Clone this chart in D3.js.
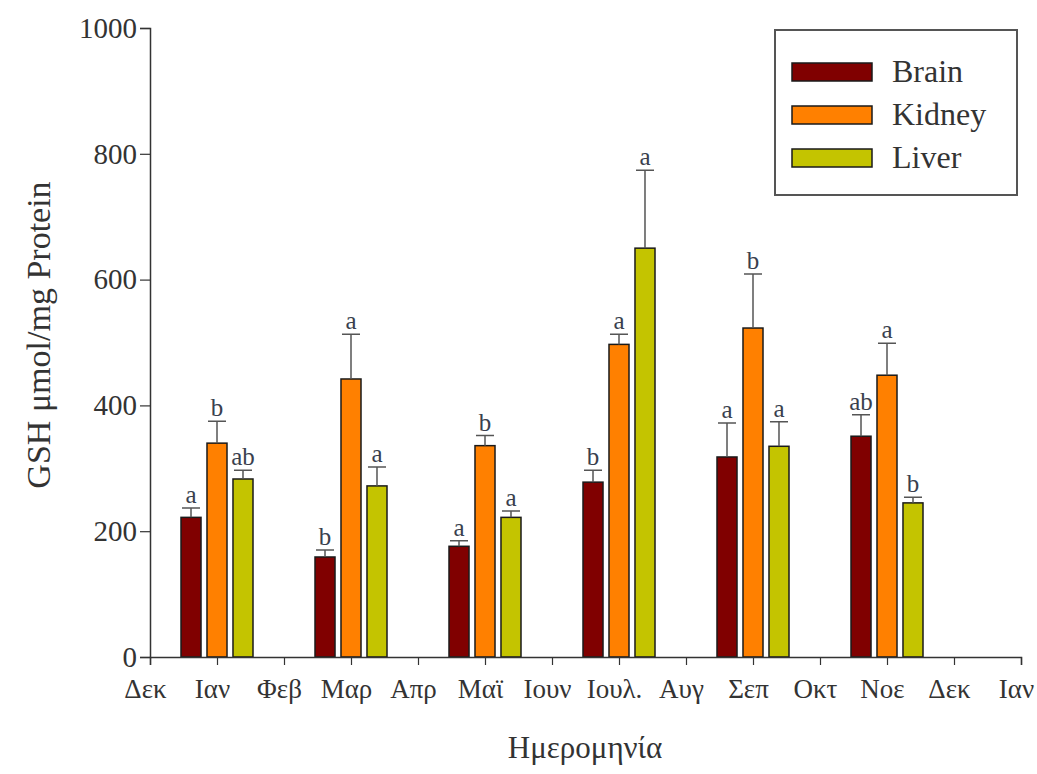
<!DOCTYPE html>
<html>
<head>
<meta charset="utf-8">
<script src="https://cdn.jsdelivr.net/npm/d3@7"></script>
<style>
  body { margin: 0; background: #fff; }
  svg { display: block; font-family: "Liberation Serif", "Times New Roman", serif; }
</style>
</head>
<body>
<div id="chart"></div>
<script>
// month ticks along the x axis (index based, labels repeat)
const tickLabels = ["Δεκ", "Ιαν", "Φεβ", "Μαρ", "Απρ", "Μαϊ", "Ιουν", "Ιουλ.", "Αυγ", "Σεπ", "Οκτ", "Νοε", "Δεκ", "Ιαν"];
// sampling months, as index into tickLabels
const sampleIdx = [1, 3, 5, 7, 9, 11];

const series = ["Brain", "Kidney", "Liver"];
const colors = ["#800000", "#ff8000", "#c4c400"];

const brain = [222, 159, 176, 278, 318, 351];
const kidney = [340, 442, 336, 497, 523, 448];
const liver = [283, 272, 222, 650, 335, 245];

const brainErr = [15, 11, 9, 19, 54, 34];
const kidneyErr = [35, 71, 16, 16, 86, 51];
const liverErr = [14, 30, 10, 124, 39, 9];

const brainSig = ["a", "b", "a", "b", "a", "ab"];
const kidneySig = ["b", "a", "b", "a", "b", "a"];
const liverSig = ["ab", "a", "a", "a", "a", "b"];

const yTicks = [0, 200, 400, 600, 800, 1000];

const width = 1037, height = 774;
const margin = { top: 28, right: 16, bottom: 117, left: 150 };
const serif = "'Liberation Serif', 'Times New Roman', serif";

const values = [brain, kidney, liver];
const errs = [brainErr, kidneyErr, liverErr];
const sigs = [brainSig, kidneySig, liverSig];

const rows = [];
sampleIdx.forEach((m, i) => {
  series.forEach((s, j) => {
    rows.push({ m, s, j, v: values[j][i], e: errs[j][i], sig: sigs[j][i] });
  });
});

const x = d3.scaleLinear()
  .domain([0, tickLabels.length - 1])
  .range([margin.left, width - margin.right]);

const xs = d3.scaleBand().domain(series).range([-36, 36]).paddingInner(0.23);

const y = d3.scaleLinear()
  .domain([0, 1000])
  .range([height - margin.bottom, margin.top]);

const svg = d3.select("#chart").append("svg")
  .attr("width", width)
  .attr("height", height)
  .attr("viewBox", [0, 0, width, height]);

const axisColor = "#333";

// bars
svg.append("g")
  .selectAll("rect")
  .data(rows)
  .join("rect")
  .attr("x", d => x(d.m) + xs(d.s))
  .attr("y", d => y(d.v))
  .attr("width", xs.bandwidth())
  .attr("height", d => y(0) - y(d.v))
  .attr("fill", d => colors[d.j])
  .attr("stroke", "#1a1a1a")
  .attr("stroke-width", 1.5);

// error bars (upper only)
const eb = svg.append("g")
  .attr("stroke", "#555")
  .attr("stroke-width", 1.5)
  .attr("fill", "none");

eb.selectAll("path")
  .data(rows)
  .join("path")
  .attr("d", d => {
    const cx = x(d.m) + xs(d.s) + xs.bandwidth() / 2;
    const half = xs.bandwidth() / 2 - 1;
    return `M${cx},${y(d.v)}V${y(d.v + d.e)}M${cx - half},${y(d.v + d.e)}H${cx + half}`;
  });

// significance letters
svg.append("g")
  .selectAll("text")
  .data(rows)
  .join("text")
  .attr("x", d => x(d.m) + xs(d.s) + xs.bandwidth() / 2)
  .attr("y", d => y(d.v + d.e) - 5)
  .attr("text-anchor", "middle")
  .attr("font-size", 25)
  .attr("font-family", serif)
  .attr("fill", "#3a3f4e")
  .text(d => d.sig);

// x axis
const xAxis = d3.axisBottom(x)
  .tickValues(d3.range(tickLabels.length))
  .tickFormat(i => tickLabels[i])
  .tickSizeOuter(0)
  .tickSize(8)
  .tickPadding(14);

svg.append("g")
  .attr("transform", `translate(0,${y(0)})`)
  .call(xAxis)
  .call(g => g.attr("font-family", serif))
  .call(g => g.select(".domain").attr("stroke", axisColor).attr("stroke-width", 1.5))
  .call(g => g.selectAll(".tick line").attr("stroke", axisColor).attr("stroke-width", 1.2))
  .call(g => g.selectAll(".tick text")
    .attr("font-size", 27)
    .attr("fill", "#333")
    .attr("dx", -5));

// y axis
const yAxis = d3.axisLeft(y)
  .tickValues(yTicks)
  .tickFormat(d3.format("d"))
  .tickSizeOuter(0)
  .tickSize(10)
  .tickPadding(3);

svg.append("g")
  .attr("transform", `translate(${margin.left},0)`)
  .call(yAxis)
  .call(g => g.attr("font-family", serif))
  .call(g => g.select(".domain").attr("stroke", axisColor).attr("stroke-width", 1.5))
  .call(g => g.selectAll(".tick line").attr("stroke", axisColor).attr("stroke-width", 1.2))
  .call(g => g.selectAll(".tick text")
    .attr("font-size", 29)
    .attr("fill", "#333"));

// axis titles
svg.append("text")
  .attr("x", 585)
  .attr("y", 758)
  .attr("text-anchor", "middle")
  .attr("font-size", 31)
  .attr("font-family", serif)
  .attr("fill", "#333")
  .text("Ημερομηνία");

svg.append("text")
  .attr("transform", "translate(50,335) rotate(-90)")
  .attr("text-anchor", "middle")
  .attr("font-size", 34)
  .attr("font-family", serif)
  .attr("fill", "#333")
  .text("GSH μmol/mg Protein");

// legend
const legend = svg.append("g").attr("transform", "translate(775,30)");
legend.append("rect")
  .attr("width", 242)
  .attr("height", 165)
  .attr("fill", "#fff")
  .attr("stroke", "#555")
  .attr("stroke-width", 2);

const li = legend.selectAll("g.item")
  .data(series)
  .join("g")
  .attr("class", "item")
  .attr("transform", (d, i) => `translate(17,${42 + i * 43})`);

li.append("rect")
  .attr("y", -9)
  .attr("width", 80)
  .attr("height", 18)
  .attr("fill", (d, i) => colors[i])
  .attr("stroke", "#1a1a1a")
  .attr("stroke-width", 1.5);

li.append("text")
  .attr("x", 100)
  .attr("y", 10)
  .attr("font-size", 32)
  .attr("font-family", serif)
  .attr("fill", "#333")
  .text(d => d);
</script>
</body>
</html>
